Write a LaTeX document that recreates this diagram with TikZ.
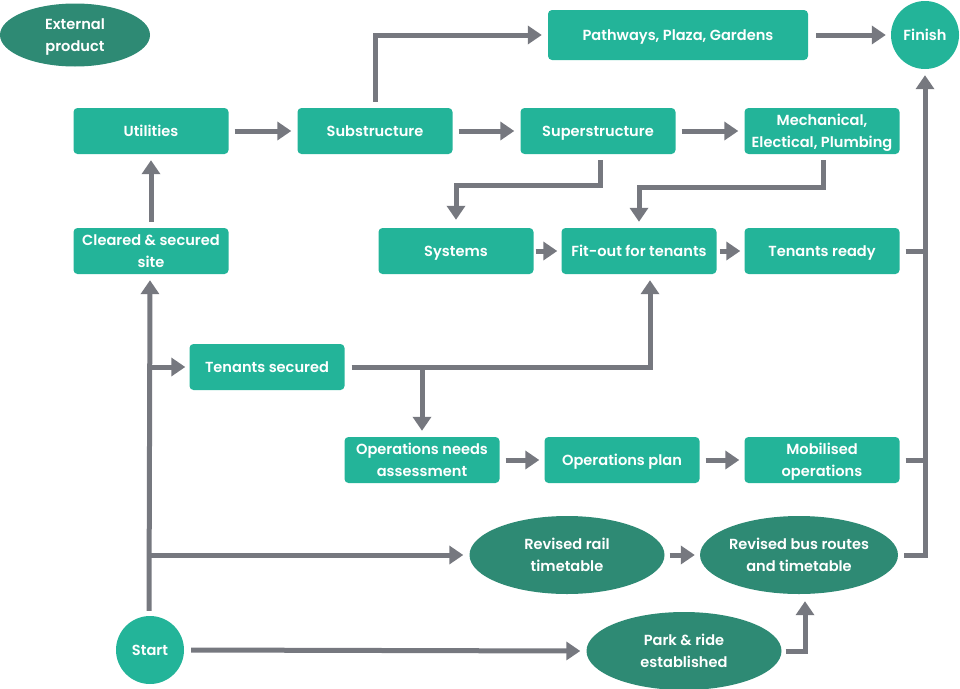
\documentclass[tikz,border=0pt]{standalone}
\usepackage{fontspec}
\setmainfont{Poppins}[UprightFont={* SemiBold}]
\usetikzlibrary{arrows.meta,shapes.geometric}
\definecolor{tealA}{HTML}{23B499}
\definecolor{tealB}{HTML}{2E8A74}
\definecolor{arrowgray}{HTML}{76787F}
\tikzset{
  lbl/.style={text=white, align=center, inner sep=0pt, text depth=0pt, font=\fontsize{14.6}{22}\selectfont},
  box/.style={lbl, fill=tealA, rounded corners=4pt, minimum width=155pt, minimum height=46pt},
  oval/.style={lbl, ellipse, fill=tealB, minimum width=195pt, minimum height=78pt},
  roundnode/.style={lbl, circle, fill=tealA, minimum size=68pt},
  conn/.style={draw=arrowgray, line width=5pt},
  arr/.style={conn, -{Triangle[length=14pt,width=18pt]}},
}
\begin{document}
\begin{tikzpicture}[x=1pt,y=-1pt]
\useasboundingbox (0,0) rectangle (960,688);
% nodes
\node[oval, minimum width=150pt, minimum height=63pt] (ext) at (75,35) {External\\product};
\node[box] (util) at (151,131) {Utilities};
\node[box] (sub) at (375,131) {Substructure};
\node[box] (sup) at (598,131) {Superstructure};
\node[box] (mep) at (822,131) {Mechanical,\\Electical, Plumbing};
\node[box, minimum width=260pt, minimum height=50pt] (path) at (678,35) {Pathways, Plaza, Gardens};
\node[roundnode] (fin) at (925,35) {Finish};
\node[box] (clr) at (151,251) {Cleared \& secured\\site};
\node[box] (sys) at (456,251) {Systems};
\node[box] (fit) at (639,251) {Fit-out for tenants};
\node[box] (trd) at (822,251) {Tenants ready};
\node[box] (tsec) at (267,367) {Tenants secured};
\node[box] (ona) at (422,460) {Operations needs\\assessment};
\node[box] (opl) at (622,460) {Operations plan};
\node[box] (mob) at (822,460) {Mobilised\\operations};
\node[oval] (rail) at (567,555) {Revised rail\\timetable};
\node[oval] (bus) at (799,555) {Revised bus routes\\and timetable};
\node[roundnode] (start) at (150,650) {Start};
\node[oval] (park) at (684,651) {Park \& ride\\established};
% connectors
\draw[arr] ([xshift=6pt]util.east) -- ([xshift=-6pt]sub.west);
\draw[arr] ([xshift=6pt]sub.east) -- ([xshift=-6pt]sup.west);
\draw[arr] ([xshift=6pt]sup.east) -- ([xshift=-6pt]mep.west);
\draw[arr] ([yshift=6pt]sub.north) |- ([xshift=-6pt]path.west);
\draw[arr] ([xshift=8pt]path.east) -- ([xshift=-5pt]fin.west);
\draw[arr] ([xshift=2pt,yshift=-6pt]sup.south) -- ++(0,25) -| ([yshift=8pt]sys.north);
\draw[arr] ([xshift=1pt,yshift=-6pt]mep.south) -- ++(0,27) -| ([yshift=6pt]fit.north);
\draw[arr] ([xshift=2pt]sys.east) -- ([xshift=-4pt]fit.west);
\draw[arr] ([xshift=3pt]fit.east) -- ([xshift=-4pt]trd.west);
\draw[conn] ([xshift=6pt]trd.east) -- (trd.east -| fin.south);
\draw[conn] ([xshift=6pt]mob.east) -- (mob.east -| fin.south);
\draw[arr] ([xshift=6pt]bus.east) -| ([yshift=-6pt]fin.south);
\draw[arr] ([yshift=6pt]clr.north) -- ([yshift=-6pt]util.south);
\draw[arr] ([xshift=-1pt,yshift=5pt]start.north) -- ([xshift=-1pt,yshift=-6pt]clr.south);
\draw[arr] (start.north |- tsec.west) -- ([xshift=-4pt]tsec.west);
\draw[arr] (start.north |- rail.west) -- ([xshift=-6pt]rail.west);
\draw[arr] ([xshift=7pt]tsec.east) -| ([xshift=11pt,yshift=-6pt]fit.south);
\draw[arr] (ona.north |- tsec.east) -- ([yshift=6pt]ona.north);
\draw[arr] ([xshift=6pt]ona.east) -- ([xshift=-5pt]opl.west);
\draw[arr] ([xshift=6pt]opl.east) -- ([xshift=-5pt]mob.west);
\draw[arr] ([xshift=5pt]rail.east) -- ([xshift=-5pt]bus.west);
\draw[arr] ([xshift=7pt]start.east) -- ([xshift=-6pt]park.west);
\draw[arr] ([xshift=4pt]park.east) -| ([xshift=6pt,yshift=-7pt]bus.south);
\end{tikzpicture}
\end{document}
